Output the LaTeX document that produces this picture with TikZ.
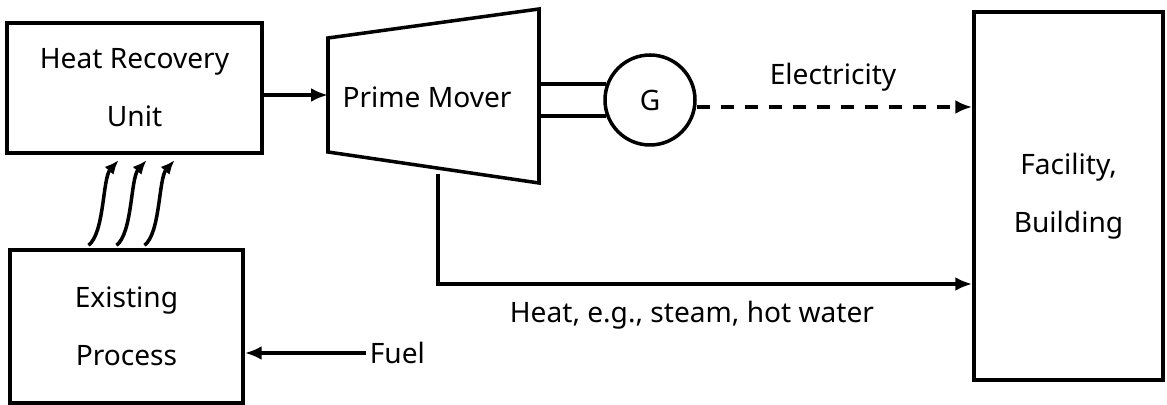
\documentclass[tikz,border=0pt]{standalone}
\usepackage{fontspec}
\setmainfont{Noto Sans}
\usetikzlibrary{arrows.meta}

\begin{document}
\begin{tikzpicture}[
  x=0.02cm, y=-0.02cm,
  box/.style={draw, line width=2pt, align=center, inner sep=0pt, font=\fontsize{16}{33}\selectfont},
  label/.style={inner sep=2pt, font=\fontsize{16}{19}\selectfont},
  arrow/.style={-{Latex[length=0.34cm, width=0.28cm]}, line width=2pt},
  wavy/.style={-{Latex[length=0.28cm, width=0.24cm]}, line width=2pt}
]
  \useasboundingbox (0,0) rectangle (1167,405);

  % Heat recovery unit
  \node[box, minimum width=5.1cm, minimum height=2.6cm] (hru) at (134.5,88) {Heat Recovery\\Unit};

  % Existing process
  \node[box, minimum width=4.66cm, minimum height=3.06cm] (ep) at (126.5,326.5) {Existing\\Process};

  % Facility
  \node[box, minimum width=3.78cm, minimum height=7.36cm] (fac) at (1068.5,196) {Facility,\\Building};

  % Prime mover
  \draw[line width=2pt, line join=miter] (328,38) -- (539,9) -- (539,183) -- (328,152) -- cycle;
  \coordinate (pmL) at (328,95);
  \coordinate (pmR) at (539,99);
  \node[label] (pm) at (427,97) {Prime Mover};

  % Generator
  \node[draw, circle, line width=2pt, minimum size=1.8cm, inner sep=0pt, font=\fontsize{16}{19}\selectfont] (gen) at (650,100) {G};
  \draw[line width=2pt] (gen.160) -- (gen.160 -| pmR);
  \draw[line width=2pt] (gen.200) -- (gen.200 -| pmR);

  % Labels
  \node[label] (elec) at (833,77) {Electricity};
  \node[label] (heat) at (692,315) {Heat, e.g., steam, hot water};
  \node[label, anchor=west] (fuel) at (366,353) {Fuel};
  \coordinate (heatS) at (438,174);
  \coordinate (elecS) at ([yshift=-0.14cm]gen.east);

  % Arrows
  \draw[arrow] (hru.east |- pmL) -- (pmL);
  \draw[arrow, dash pattern=on 0.26cm off 0.22cm] (elecS) -- (fac.west |- elecS);
  \draw[arrow] (heatS) -- (heatS |- 0,284) -- (fac.west |- 0,284);
  \draw[arrow] (fuel.west) -- (ep.east |- fuel.west);
  \foreach \d in {-38,-10,18}
    \draw[wavy] ([xshift=\d*0.02cm, yshift=0.06cm]ep.north) .. controls +(16,-12) and +(-16,18) .. ++(30,-85);
\end{tikzpicture}
\end{document}
